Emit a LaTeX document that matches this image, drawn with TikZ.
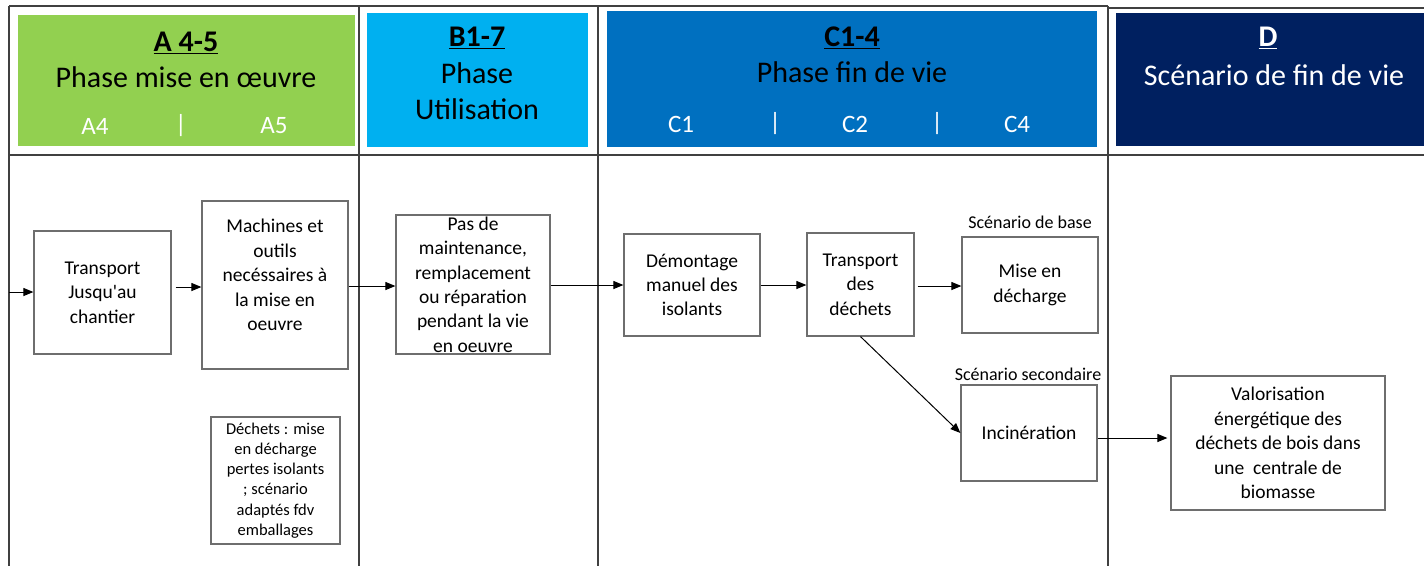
\documentclass[tikz,border=0pt]{standalone}
\usepackage{fontspec}
\setmainfont{Carlito}
\usetikzlibrary{arrows.meta}
\definecolor{cgreen}{HTML}{92D050}
\definecolor{ccyan}{HTML}{00B0F0}
\definecolor{cblue}{HTML}{0070C0}
\definecolor{cnavy}{HTML}{002060}
\definecolor{gridc}{HTML}{404040}
\definecolor{boxc}{HTML}{6E6E6E}
\newcommand{\sqapos}{\XeTeXglyph\XeTeXcharglyph"27\relax}
\tikzset{
  grid/.style={draw=gridc, line width=1.4pt},
  htitle/.style={font=\fontsize{30}{36}\selectfont, inner sep=0pt, align=center},
  hsub/.style={font=\fontsize{25}{30}\selectfont, text=white, inner sep=0pt},
  box/.style={draw=boxc, line width=1.2pt, align=center, inner sep=0pt,
    font=\fontsize{19.5}{24.4}\selectfont},
  btxt/.style={align=center, inner sep=0pt, font=\fontsize{19.5}{24.4}\selectfont},
  small/.style={font=\fontsize{16.5}{20.2}\selectfont},
  lab/.style={inner sep=0pt, font=\fontsize{18}{22}\selectfont},
  arr/.style={draw=black, line width=1pt, -{Triangle[length=10pt,width=8pt]}}
}
\begin{document}
\begin{tikzpicture}[x=1pt,y=-1pt]
\useasboundingbox (0,0) rectangle (1424,566);
% header fills
\fill[cgreen] (18,15) rectangle (355,146);
\fill[ccyan] (367,13) rectangle (588,147);
\fill[cblue] (607,11) rectangle (1097,147);
\fill[cnavy] (1116,13) rectangle (1424,146);
% grid
\draw[grid] (9,6) -- (1108,6);
\draw[grid] (1108,8) -- (1424,8);
\draw[grid] (9,155) -- (1424,155);
\draw[grid] (9,6) -- (9,566);
\draw[grid] (359,6) -- (359,566);
\draw[grid] (598,6) -- (598,566);
\draw[grid] (1108,6) -- (1108,566);
% header texts
\node[htitle] (ha) at (186,43) {\textbf{\underline{A 4-5}}};
\node[htitle] (hap) at (186,77) {Phase mise en œuvre};
\node[hsub] (ha4) at (95,126) {A4};
\node[hsub] (has1) at (181,126) {|};
\node[hsub] (ha5) at (274,126) {A5};
\node[htitle] (hb) at (477,38) {\textbf{\underline{B1-7}}};
\node[htitle] (hbp) at (477,91) {Phase\\Utilisation};
\node[htitle] (hc) at (852,38) {\textbf{\underline{C1-4}}};
\node[htitle] (hcp) at (852,72) {Phase fin de vie};
\node[hsub] (hc1) at (681,124) {C1};
\node[hsub] (hcs1) at (775,124) {|};
\node[hsub] (hc2) at (855,124) {C2};
\node[hsub] (hcs2) at (937,124) {|};
\node[hsub] (hc4) at (1017,124) {C4};
\node[htitle, text=white] (hd) at (1268,38) {\textbf{\underline{D}}};
\node[htitle, text=white] (hdp) at (1274,75) {Scénario de fin de vie};
% boxes
\coordinate (start) at (9,292);
\node[box, minimum width=137, minimum height=123] (T) at (102.5,292.5) {Transport\\Jusqu\sqapos au\\chantier};
\node[box, minimum width=146, minimum height=168] (M) at (275,285) {};
\node[btxt] (Mt) at (275,275) {Machines et\\outils\\necéssaires à\\la mise en\\oeuvre};
\node[box, small, minimum width=129, minimum height=127] (W) at (275.5,480.5) {Déchets : mise\\en décharge\\pertes isolants\\; scénario\\adaptés fdv\\emballages};
\node[box, minimum width=154, minimum height=139] (P) at (473,284.5) {Pas de\\maintenance,\\remplacement\\ou réparation\\pendant la vie\\en oeuvre};
\node[box, minimum width=136, minimum height=102] (Dm) at (692,285) {Démontage\\manuel des\\isolants};
\node[box, minimum width=107, minimum height=103] (TD) at (860.5,284.5) {Transport\\des\\déchets};
\node[box, minimum width=136, minimum height=96] (MD) at (1030,285) {Mise en\\décharge};
\node[lab] (sb) at (1030,222) {Scénario de base};
\node[lab] (ss) at (1028,374) {Scénario secondaire};
\node[box, minimum width=136, minimum height=96] (I) at (1029,433) {Incinération};
\node[box, minimum width=214, minimum height=134] (V) at (1278,443) {Valorisation\\énergétique des\\déchets de bois dans\\une\ \ centrale de\\biomasse};
% arrows
\draw[arr] (start) -- (T.west |- start);
\draw[arr] ([xshift=4pt]T.east |- 0,287) -- (M.west |- 0,287);
\draw[arr] (M.east |- 0,286) -- (P.west |- 0,286);
\draw[arr] (P.east |- 0,285) -- (Dm.west |- 0,285);
\draw[arr] (Dm.east |- 0,285) -- (TD.west |- 0,285);
\draw[arr] ([xshift=3pt]TD.east |- 0,286) -- (MD.west |- 0,286);
\draw[arr] (TD.south) -- (I.west);
\draw[arr] (I.east |- 0,438) -- ([xshift=-3pt]V.west |- 0,438);
\end{tikzpicture}
\end{document}
